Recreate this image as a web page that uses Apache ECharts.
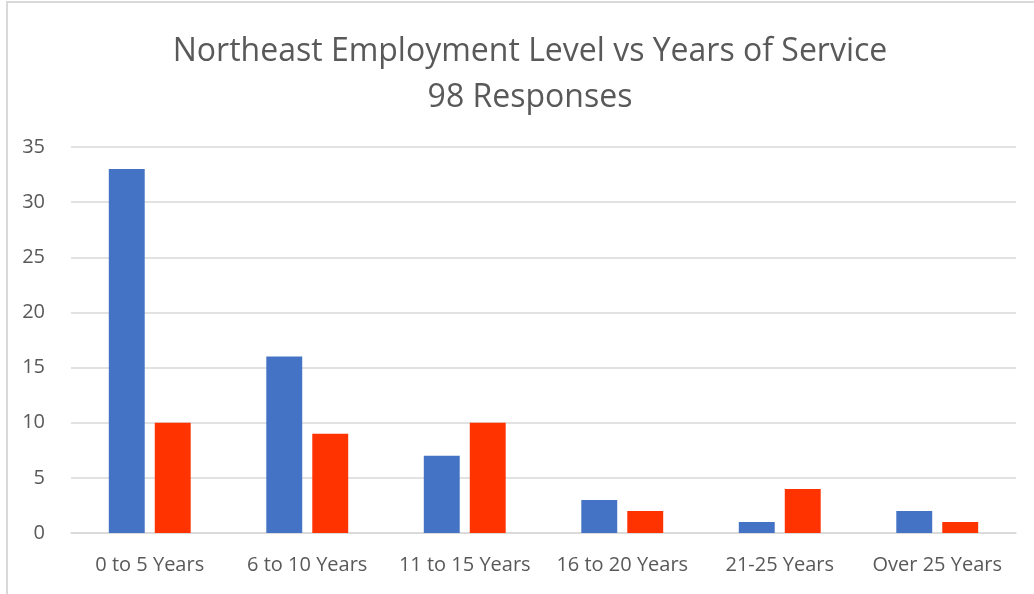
<!DOCTYPE html>
<html>
<head>
<meta charset="utf-8">
<script src="https://cdn.jsdelivr.net/npm/echarts@6/dist/echarts.min.js"></script>
<style>
  html, body { margin: 0; padding: 0; background: #fff; }
  #chart { width: 1034px; height: 594px; }
</style>
</head>
<body>
<div id="chart"></div>
<script>
// 数据
const categories = ['0 to 5 Years', '6 to 10 Years', '11 to 15 Years', '16 to 20 Years', '21-25 Years', 'Over 25 Years']
const blueValues = [33, 16, 7, 3, 1, 2]
const redValues = [10, 9, 10, 2, 4, 1]
const titleLines = ['Northeast Employment Level vs Years of Service', '98 Responses']

const chart = echarts.init(document.getElementById('chart'))

const option = {
  animation: false,
  textStyle: { fontFamily: 'Open Sans' },
  title: {
    text: titleLines.join('\n'),
    left: 525,
    textAlign: 'center',
    top: 24,
    textStyle: {
      fontFamily: 'Open Sans',
      fontSize: 32,
      fontWeight: 'normal',
      color: '#595959',
      lineHeight: 46,
    },
  },
  graphic: [
    {
      type: 'rect',
      shape: { x: 7, y: 2, width: 1200, height: 800 },
      style: { fill: 'none', stroke: '#d9d9d9', lineWidth: 2 },
      silent: true,
    },
  ],
  grid: {
    left: 71,
    right: 18,
    top: 147,
    bottom: 61,
  },
  xAxis: {
    type: 'category',
    data: categories,
    axisTick: { show: false },
    axisLine: { lineStyle: { color: '#d9d9d9', width: 1.5 } },
    axisLabel: { color: '#595959', fontSize: 20, margin: 22, interval: 0 },
  },
  yAxis: {
    type: 'value',
    min: 0,
    max: 35,
    interval: 5,
    axisLine: { show: false },
    axisTick: { show: false },
    splitLine: { lineStyle: { color: '#d9d9d9', width: 1.5 } },
    axisLabel: { color: '#595959', fontSize: 20, margin: 26 },
  },
  series: [
    {
      type: 'bar',
      data: blueValues,
      barGap: '28%',
      barCategoryGap: '48%',
      itemStyle: { color: '#4472c4' },
    },
    {
      type: 'bar',
      data: redValues,
      itemStyle: { color: '#ff3300' },
    },
  ],
}

chart.setOption(option)
</script>
</body>
</html>
